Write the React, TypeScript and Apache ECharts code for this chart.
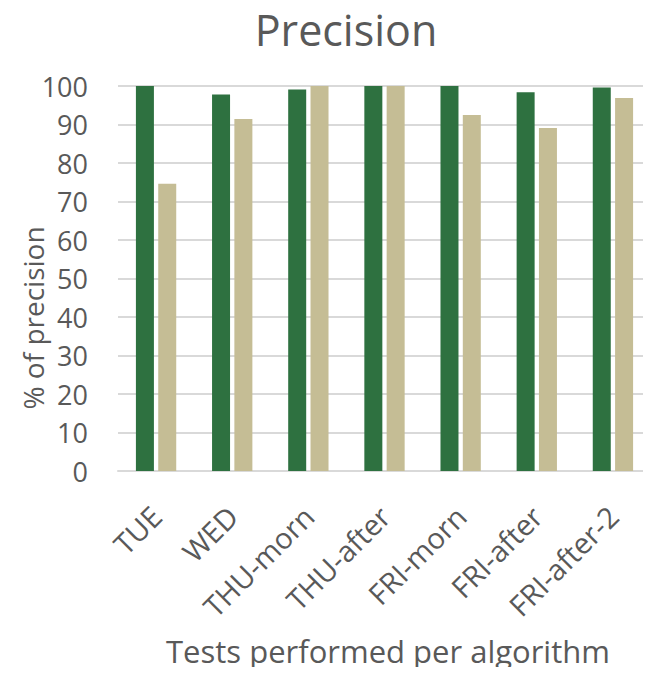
import React, { useEffect, useRef } from "react";
import * as echarts from "echarts";

const categories = ["TUE", "WED", "THU-morn", "THU-after", "FRI-morn", "FRI-after", "FRI-after-2"];
const seriesA = [100, 97.8, 99.1, 100, 100, 98.4, 99.6];
const seriesB = [74.6, 91.4, 100, 100, 92.5, 89.1, 96.9];
const yTicks = [0, 10, 20, 30, 40, 50, 60, 70, 80, 90, 100];

const FONT = "'Open Sans', 'Noto Sans', sans-serif";
const TEXT = "#595959";

export default function App() {
  const ref = useRef<HTMLDivElement>(null);

  useEffect(() => {
    if (!ref.current) return;
    const chart = echarts.init(ref.current, undefined, { renderer: "svg" });
    chart.setOption({
      animation: false,
      backgroundColor: "#ffffff",
      textStyle: { fontFamily: FONT },
      graphic: [
        {
          type: "text",
          x: 346,
          y: 29,
          style: {
            text: "Precision",
            font: `43px ${FONT}`,
            fill: TEXT,
            align: "center",
            verticalAlign: "middle",
          },
        },
        {
          type: "text",
          x: 33,
          y: 318,
          rotation: Math.PI / 2,
          style: {
            text: "% of precision",
            font: `28px ${FONT}`,
            fill: TEXT,
            align: "center",
            verticalAlign: "middle",
          },
        },
        {
          type: "text",
          x: 388,
          y: 651,
          style: {
            text: "Tests performed per algorithm",
            font: `31px ${FONT}`,
            fill: TEXT,
            align: "center",
            verticalAlign: "middle",
          },
        },
      ],
      grid: { left: 118, top: 86, width: 542, bottom: 204 },
      xAxis: {
        type: "category",
        data: categories,
        axisLine: { lineStyle: { color: "#d9d9d9", width: 2 } },
        axisTick: { show: false },
        axisLabel: {
          rotate: 45,
          interval: 0,
          margin: 40,
          fontSize: 29,
          color: TEXT,
          fontFamily: FONT,
        },
      },
      yAxis: {
        type: "value",
        min: yTicks[0],
        max: yTicks[yTicks.length - 1],
        interval: 10,
        axisLine: { show: false },
        axisTick: { show: false },
        splitLine: { lineStyle: { color: "#d9d9d9", width: 2 } },
        axisLabel: { margin: 30, fontSize: 27, color: TEXT, fontFamily: FONT },
      },
      series: [
        {
          type: "bar",
          data: seriesA,
          barWidth: 18,
          barGap: "24%",
          itemStyle: { color: "#2e7140" },
        },
        {
          type: "bar",
          data: seriesB,
          barWidth: 18,
          itemStyle: { color: "#c5bd95" },
        },
      ],
    });
    return () => chart.dispose();
  }, []);

  return <div ref={ref} style={{ width: 651, height: 675, margin: -8 }} />;
}
